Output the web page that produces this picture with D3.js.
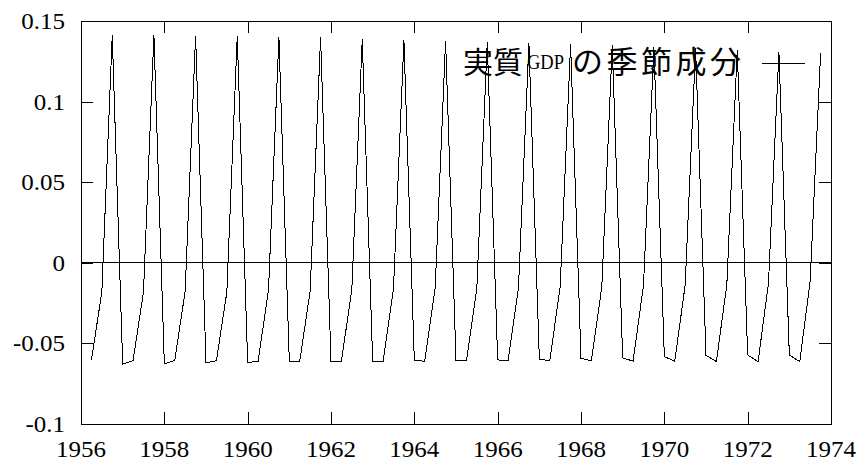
<!DOCTYPE html>
<html><head><meta charset="utf-8">
<script src="https://cdn.jsdelivr.net/npm/d3@7"></script>
<style>
html,body{margin:0;padding:0;background:#fff;}
svg{display:block;}
text.lbl{font-family:"Liberation Serif","Times New Roman",Times,serif;font-size:23px;fill:#000;}
</style></head>
<body>
<svg id="c" width="859" height="465"></svg>
<script>
// Years and quarterly seasonal component of real GDP (Q1..Q4)
const years = [1956,1957,1958,1959,1960,1961,1962,1963,1964,1965,1966,1967,1968,1969,1970,1971,1972,1973];
const q1 = [null,-0.0628,-0.0628,-0.0620,-0.0620,-0.0615,-0.0612,-0.0610,-0.0607,-0.0605,-0.0602,-0.0598,-0.0593,-0.0590,-0.0582,-0.0574,-0.0572,-0.0572];
const q2 = [-0.0603,-0.0607,-0.0605,-0.0607,-0.0610,-0.0610,-0.0610,-0.0610,-0.0610,-0.0608,-0.0608,-0.0608,-0.0607,-0.0610,-0.0611,-0.0613,-0.0613,-0.0613];
const q3 = [-0.0182,-0.0180,-0.0176,-0.0182,-0.0170,-0.0175,-0.0166,-0.0160,-0.0159,-0.0157,-0.0152,-0.0149,-0.0148,-0.0140,-0.0139,-0.0135,-0.0125,-0.0115];
const q4 = [0.1413,0.1415,0.1409,0.1409,0.1400,0.1400,0.1388,0.1380,0.1376,0.1370,0.1362,0.1355,0.1348,0.1340,0.1332,0.1322,0.1310,0.1300];
const xTicks = [1956,1958,1960,1962,1964,1966,1968,1970,1972,1974];
const yTicks = [-0.1,-0.05,0,0.05,0.1,0.15];
const yTickLabels = ["-0.1","-0.05","0","0.05","0.1","0.15"];
const legendLabel = ["実質","GDP","の季節成分"];

const data = [];
years.forEach((y,i)=>{
  [q1[i],q2[i],q3[i],q4[i]].forEach((v,q)=>{ if(v!==null) data.push({t:y+q/4, v:v}); });
});

const L=81, R=831, T=21, B=424;
const svg = d3.select("#c");
const x = d3.scaleLinear().domain([1956,1974]).range([L,R]);
const y = d3.scaleLinear().domain([-0.1,0.15]).range([B,T]);
const serif = '"Liberation Serif", "Times New Roman", Times, serif';
const cjk = '"Noto Sans CJK JP", "Noto Sans CJK SC", sans-serif';

// frame
svg.append("rect").attr("x",L).attr("y",T).attr("width",R-L).attr("height",B-T)
  .attr("fill","none").attr("stroke","#000").attr("stroke-width",1).attr("shape-rendering","crispEdges");

// inward ticks on all four sides (labels drawn separately)
const tk = 12;
const tickOnly = g=>{g.select(".domain").remove(); g.selectAll("text").remove(); g.selectAll("line").attr("shape-rendering","crispEdges");};
svg.append("g").attr("transform",`translate(0,${B})`)
  .call(d3.axisBottom(x).tickValues(xTicks).tickSizeInner(-tk).tickSizeOuter(0)).call(tickOnly);
svg.append("g").attr("transform",`translate(0,${T})`)
  .call(d3.axisTop(x).tickValues(xTicks).tickSizeInner(-tk).tickSizeOuter(0)).call(tickOnly);
svg.append("g").attr("transform",`translate(${L},0)`)
  .call(d3.axisLeft(y).tickValues(yTicks).tickSizeInner(-tk).tickSizeOuter(0)).call(tickOnly);
svg.append("g").attr("transform",`translate(${R},0)`)
  .call(d3.axisRight(y).tickValues(yTicks).tickSizeInner(-tk).tickSizeOuter(0)).call(tickOnly);

// width normaliser: the reference digits are ~12.5px wide
const probe = svg.append("text").attr("class","lbl").text("1956");
const f = 50 / probe.node().getComputedTextLength();
probe.remove();
function fit(sel){
  sel.each(function(){
    const l = this.getComputedTextLength();
    d3.select(this).attr("textLength", l*f).attr("lengthAdjust","spacingAndGlyphs");
  });
}

// tick labels
svg.selectAll("text.xl").data(xTicks).join("text").attr("class","lbl xl")
  .attr("x",d=>x(d)).attr("y",B+33).attr("text-anchor","middle")
  .text(d=>String(d)).call(fit);
svg.selectAll("text.yl").data(yTicks).join("text").attr("class","lbl yl")
  .attr("x",L-16).attr("y",d=>y(d)+8).attr("text-anchor","end")
  .text((d,i)=>yTickLabels[i]).call(fit);

// zero line
svg.append("line").attr("x1",L).attr("x2",R).attr("y1",y(0)).attr("y2",y(0))
  .attr("stroke","#000").attr("shape-rendering","crispEdges");

// series
svg.append("path").datum(data)
  .attr("d",d3.line().x(d=>x(d.t)).y(d=>y(d.v)))
  .attr("fill","none").attr("stroke","#000").attr("stroke-width",1).attr("shape-rendering","crispEdges");

// legend
const lt = svg.append("text").attr("x",463).attr("y",73).attr("fill","#000");
lt.append("tspan").style("font-family",cjk).style("font-size","30px").text(legendLabel[0]);
const gdp = lt.append("tspan").style("font-family",serif).style("font-size","21px").attr("dy",-4).attr("dx",4).text(legendLabel[1]);
lt.append("tspan").style("font-family",cjk).style("font-size","31px").attr("dy",4).attr("dx",8).style("letter-spacing","3.5px").text(legendLabel[2]);
gdp.attr("textLength",37).attr("lengthAdjust","spacingAndGlyphs");
svg.append("line").attr("x1",762).attr("x2",805).attr("y1",63).attr("y2",63)
  .attr("stroke","#000").attr("shape-rendering","crispEdges");
</script>
</body></html>
